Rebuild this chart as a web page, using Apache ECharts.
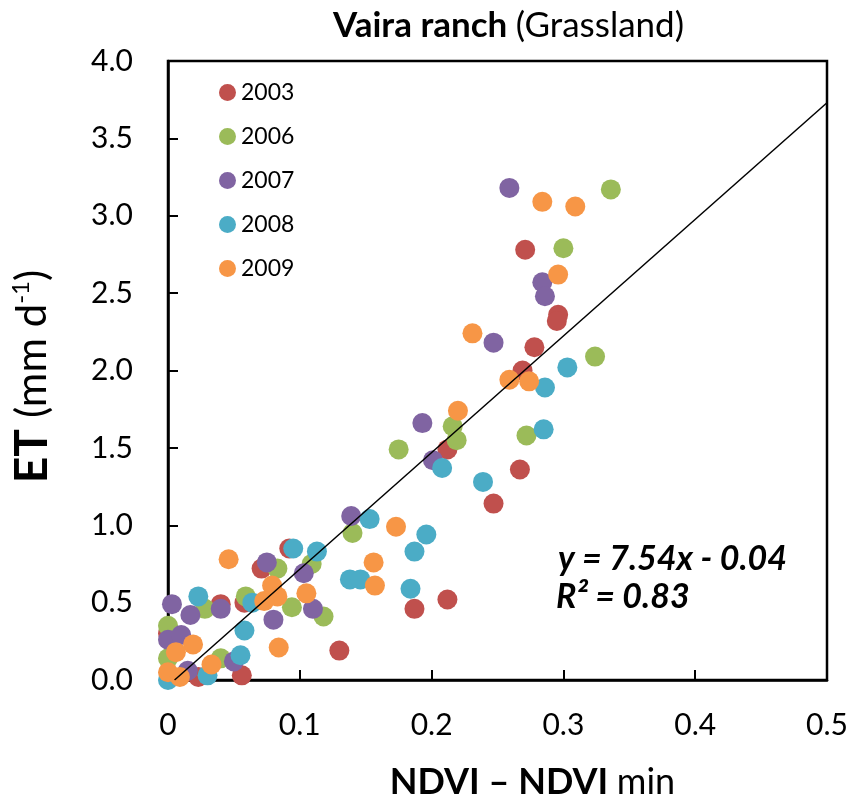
<!DOCTYPE html>
<html lang="en">
<head>
    <meta charset="UTF-8">
    <title>Vaira ranch</title>
    <script src="https://cdn.jsdelivr.net/npm/echarts@6/dist/echarts.min.js"></script>
    <style>
        html, body { margin: 0; padding: 0; background: #fff; }
    </style>
</head>
<body>
<div id="main" style="width: 868px;height: 796px;"></div>
<script>
    // points, [NDVI - NDVImin, ET]
    var years = ['2003', '2006', '2007', '2008', '2009'];
    var colors = ['#C0504D', '#9BBB59', '#8064A2', '#4BACC6', '#F79646'];

    var data2003 = [
        [0.271, 2.78], [0.296, 2.36], [0.295, 2.32], [0.278, 2.15], [0.269, 2.00],
        [0.212, 1.49], [0.267, 1.36], [0.247, 1.14], [0.212, 0.52], [0.187, 0.46],
        [0.130, 0.19], [0.092, 0.85], [0.071, 0.72], [0.040, 0.49], [0.058, 0.50],
        [0.056, 0.03], [0.023, 0.02], [0.000, 0.30]
    ];
    var data2006 = [
        [0.336, 3.17], [0.300, 2.79], [0.324, 2.09], [0.216, 1.64], [0.219, 1.55],
        [0.272, 1.58], [0.175, 1.49], [0.140, 0.95], [0.109, 0.75], [0.118, 0.41],
        [0.083, 0.72], [0.028, 0.46], [0.059, 0.54], [0.094, 0.47], [0.000, 0.35],
        [0.000, 0.14], [0.040, 0.14]
    ];
    var data2007 = [
        [0.259, 3.18], [0.284, 2.57], [0.286, 2.48], [0.247, 2.18], [0.193, 1.66],
        [0.201, 1.42], [0.139, 1.06], [0.103, 0.69], [0.110, 0.46], [0.075, 0.76],
        [0.080, 0.39], [0.003, 0.49], [0.040, 0.46], [0.017, 0.42], [0.000, 0.26],
        [0.010, 0.29], [0.050, 0.12], [0.015, 0.06]
    ];
    var data2008 = [
        [0.303, 2.02], [0.286, 1.89], [0.285, 1.62], [0.208, 1.37], [0.239, 1.28],
        [0.153, 1.04], [0.196, 0.94], [0.187, 0.83], [0.113, 0.83], [0.095, 0.85],
        [0.138, 0.65], [0.146, 0.65], [0.184, 0.59], [0.023, 0.54], [0.064, 0.50],
        [0.058, 0.32], [0.055, 0.16], [0.030, 0.03], [0.000, 0.00]
    ];
    var data2009 = [
        [0.284, 3.09], [0.309, 3.06], [0.296, 2.62], [0.231, 2.24], [0.259, 1.94],
        [0.274, 1.93], [0.220, 1.74], [0.173, 0.99], [0.156, 0.76], [0.157, 0.61],
        [0.105, 0.56], [0.046, 0.78], [0.079, 0.61], [0.083, 0.54], [0.073, 0.51],
        [0.084, 0.21], [0.019, 0.23], [0.006, 0.18], [0.033, 0.10], [0.000, 0.05],
        [0.009, 0.02]
    ];
    var yearData = [data2003, data2006, data2007, data2008, data2009];

    // linear fit y = 7.54x - 0.04, end points as drawn
    var fitLine = [[0.005, 0.0], [0.5, 3.73]];
    var eqText = 'y = 7.54x - 0.04';
    var r2Text = 'R\u00b2 = 0.83';

    var xTicks = [0, 0.1, 0.2, 0.3, 0.4, 0.5];
    var yTicks = [0, 0.5, 1.0, 1.5, 2.0, 2.5, 3.0, 3.5, 4.0];

    var FONT = 'Lato, "Open Sans", sans-serif';
    var myChart = echarts.init(document.getElementById('main'));

    var seriesData = [];
    for (var i = 0; i < years.length; i++) {
        seriesData.push({
            name: years[i],
            type: 'scatter',
            symbol: 'circle',
            symbolSize: 20,
            itemStyle: { color: colors[i], opacity: 1 },
            data: yearData[i],
            z: 2 + i
        });
    }
    seriesData.push({
        name: 'fit',
        type: 'line',
        data: fitLine,
        symbol: 'none',
        lineStyle: { color: '#000', width: 1.5 },
        silent: true,
        z: 10
    });

    var option = {
        animation: false,
        textStyle: { fontFamily: FONT, color: '#000' },
        title: {
            text: '{b|Vaira ranch }{r|(Grassland)}',
            left: 328,
            top: 3,
            textStyle: {
                fontFamily: FONT,
                fontSize: 35,
                color: '#000',
                rich: {
                    b: { fontFamily: FONT, fontSize: 35, fontWeight: 'bold', color: '#000' },
                    r: { fontFamily: FONT, fontSize: 35, fontWeight: 'normal', color: '#000' }
                }
            }
        },
        legend: {
            data: years,
            orient: 'vertical',
            left: 219,
            top: 81,
            padding: 0,
            itemWidth: 17,
            itemHeight: 17,
            itemGap: 21,
            icon: 'circle',
            textStyle: { fontFamily: FONT, fontSize: 23, color: '#000', padding: [2, 0, 0, 0] }
        },
        grid: {
            left: 168,
            top: 61,
            right: 41,
            bottom: 116,
            show: true,
            borderColor: '#000',
            borderWidth: 2.5,
            containLabel: false,
            outerBoundsMode: 'none'
        },
        xAxis: {
            type: 'value',
            min: xTicks[0],
            max: xTicks[xTicks.length - 1],
            interval: 0.1,
            name: '{b|NDVI \u2013 NDVI }{r|min}',
            nameLocation: 'middle',
            nameGap: 84,
            nameTextStyle: {
                fontFamily: FONT,
                fontSize: 36,
                padding: [0, 0, 0, 70],
                rich: {
                    b: { fontFamily: FONT, fontSize: 36, fontWeight: 'bold', color: '#000' },
                    r: { fontFamily: FONT, fontSize: 36, color: '#000' }
                }
            },
            axisLine: { show: true, lineStyle: { color: '#000', width: 2.5 } },
            axisTick: { show: true, inside: true, length: 10, lineStyle: { color: '#000', width: 2 } },
            splitLine: { show: false },
            axisLabel: {
                margin: 30,
                fontFamily: FONT,
                fontSize: 30,
                color: '#000',
                formatter: function (v) { return v === 0 ? '0' : v.toFixed(1); }
            }
        },
        yAxis: {
            type: 'value',
            min: yTicks[0],
            max: yTicks[yTicks.length - 1],
            interval: 0.5,
            name: '{b|ET }{r|(mm d}{s|-1}{r|)}',
            nameLocation: 'middle',
            nameRotate: 90,
            nameGap: 113,
            nameTextStyle: {
                fontFamily: FONT,
                fontSize: 42,
                padding: [0, 12, 0, 0],
                rich: {
                    b: { fontFamily: FONT, fontSize: 46, fontWeight: 'bold', color: '#000' },
                    r: { fontFamily: FONT, fontSize: 42, color: '#000' },
                    s: { fontFamily: FONT, fontSize: 24, color: '#000', verticalAlign: 'top', padding: [0, 0, 16, 0] }
                }
            },
            axisLine: { show: true, lineStyle: { color: '#000', width: 2.5 } },
            axisTick: { show: true, inside: true, length: 10, lineStyle: { color: '#000', width: 2 } },
            splitLine: { show: false },
            axisLabel: {
                margin: 35,
                fontFamily: FONT,
                fontSize: 30,
                color: '#000',
                formatter: function (v) { return v.toFixed(1); }
            }
        },
        graphic: [
            {
                type: 'text',
                right: 81,
                top: 542,
                style: { text: eqText, font: 'italic bold 34px ' + FONT, fill: '#000' }
            },
            {
                type: 'text',
                left: 556,
                top: 580,
                style: { text: r2Text, font: 'italic bold 34px ' + FONT, fill: '#000' }
            }
        ],
        series: seriesData
    };

    myChart.setOption(option);
</script>
</body>
</html>
